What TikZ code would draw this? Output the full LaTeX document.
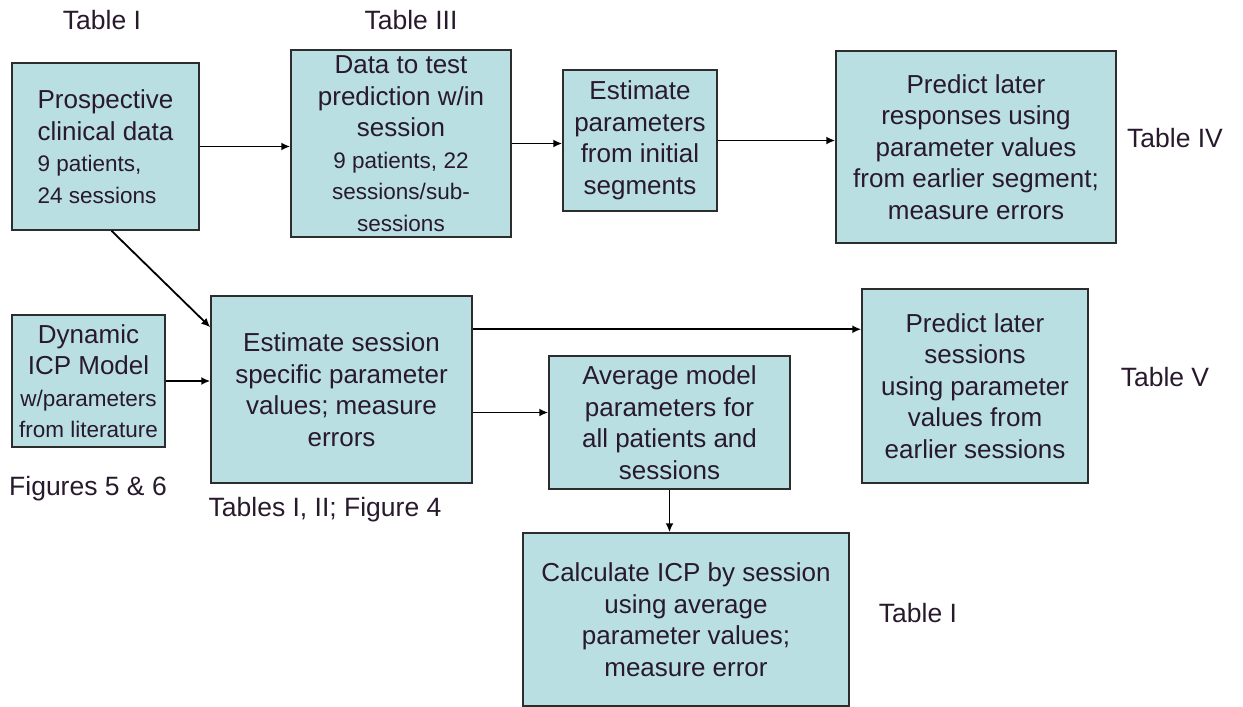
\documentclass[tikz,border=0pt]{standalone}
\usepackage{fontspec}
\setmainfont{Liberation Sans}
\usepackage{tikz}
\usetikzlibrary{arrows.meta}

\definecolor{boxfill}{RGB}{185,223,226}
\definecolor{boxline}{RGB}{45,45,45}
\definecolor{labtext}{RGB}{40,25,45}
\newcommand{\bigtxt}{\fontsize{26}{31.5}\selectfont}
\newcommand{\smltxt}{\fontsize{22.5}{30}\selectfont}
\newcommand{\labtxt}{\fontsize{26.5}{32}\selectfont}

\begin{document}
\begin{tikzpicture}[x=1pt,y=-1pt,
    box/.style={draw=boxline,fill=boxfill,line width=1.5pt,inner sep=0pt,align=center,font=\bigtxt,text=labtext},
    lab/.style={font=\labtxt,text=labtext},
    arr/.style={-{Latex[length=9pt,width=8pt]},line width=1.8pt,black}]
    \useasboundingbox (0,0) rectangle (1243,707);

    % boxes, top row
    \node[box,align=left,minimum width=187,minimum height=167] (p1) at (105.5,146.5)
        {Prospective\\clinical data\\{\smltxt 9 patients,}\\{\smltxt 24 sessions}};
    \node[box,minimum width=220,minimum height=187] (p2) at (401,143.5)
        {Data to test\\prediction w/in\\session\\{\smltxt 9 patients, 22}\\{\smltxt sessions/sub-}\\{\smltxt sessions}};
    \node[box,minimum width=154,minimum height=141] (p3) at (640,140.5)
        {Estimate\\parameters\\from initial\\segments};
    \node[box,minimum width=280,minimum height=192] (p4) at (976,147)
        {Predict later\\responses using\\parameter values\\from earlier segment;\\measure errors};

    % boxes, lower part
    \node[box,minimum width=153,minimum height=132] (p5) at (88.5,381)
        {Dynamic\\ICP Model\\{\smltxt w/parameters}\\{\smltxt from literature}};
    \node[box,minimum width=261,minimum height=187] (p6) at (341.5,389.5)
        {Estimate session\\specific parameter\\values; measure\\errors};
    \node[box,minimum width=241,minimum height=133] (p7) at (669.5,422.5)
        {Average model\\parameters for\\all patients and\\sessions};
    \node[box,minimum width=226,minimum height=194] (p8) at (975,386)
        {Predict later\\sessions\\using parameter\\values from\\earlier sessions};
    \node[box,minimum width=326,minimum height=173] (p9) at (686,619.5)
        {Calculate ICP by session\\using average\\parameter values;\\measure error};

    % table and figure labels
    \node[lab] (t1) at (102,20) {Table I};
    \node[lab] (t3) at (411,20) {Table III};
    \node[lab] (t4) at (1175,138) {Table IV};
    \node[lab] (t5) at (1165,377) {Table V};
    \node[lab] (f56) at (88,489) {Figures 5 \& 6};
    \node[lab] (t12) at (325,510) {Tables I, II; Figure 4};
    \node[lab] (t1b) at (918,613) {Table I};

    % connectors
    \draw[arr] (p1.east) -- (p1.east -| p2.west);
    \draw[arr] (p2.east) -- (p2.east -| p3.west);
    \draw[arr] (p3.east) -- (p3.east -| p4.west);
    \draw[arr] ([xshift=6pt]p1.south) -- ([yshift=-32pt]p6.north west);
    \draw[arr] (p5.east) -- (p5.east -| p6.west);
    \draw[arr] ([yshift=-34pt]p6.north east) -- ([yshift=-34pt]p6.north east -| p8.west);
    \draw[arr] ([yshift=10pt]p7.west -| p6.east) -- ([yshift=10pt]p7.west);
    \draw[arr] (p7.south) -- (p7.south |- p9.north);
\end{tikzpicture}
\end{document}
